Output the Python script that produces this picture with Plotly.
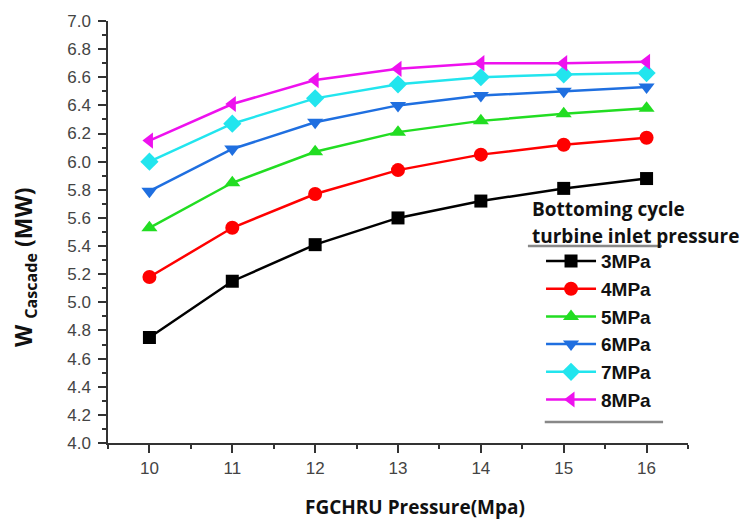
import plotly.graph_objects as go

x_vals = [10, 11, 12, 13, 14, 15, 16]
p3 = [4.75, 5.15, 5.41, 5.60, 5.72, 5.81, 5.88]
p4 = [5.18, 5.53, 5.77, 5.94, 6.05, 6.12, 6.17]
p5 = [5.53, 5.85, 6.07, 6.21, 6.29, 6.34, 6.38]
p6 = [5.79, 6.09, 6.28, 6.40, 6.47, 6.50, 6.53]
p7 = [6.00, 6.27, 6.45, 6.55, 6.60, 6.62, 6.63]
p8 = [6.15, 6.41, 6.58, 6.66, 6.70, 6.70, 6.71]
names = ["3MPa", "4MPa", "5MPa", "6MPa", "7MPa", "8MPa"]
series = [p3, p4, p5, p6, p7, p8]
colors = ["#000000", "#ff0000", "#22dd22", "#1f6fe0", "#22e5ee", "#ee11ee"]
symbols = ["square", "circle", "triangle-up", "triangle-down", "diamond", "triangle-left"]
msizes = [13, 14, 14, 14, 14, 14]

fig = go.Figure()
for n, s, c, sym, ms in zip(names, series, colors, symbols, msizes):
    fig.add_trace(go.Scatter(
        x=x_vals, y=s, name="<b>" + n + "</b>", mode="lines+markers",
        line=dict(color=c, width=2.5),
        marker=dict(symbol=sym, size=ms, color=c),
    ))

axis_font = dict(family="Liberation Sans, Arial", size=17, color="#444444")
title_font = "Open Sans, Lato, sans-serif"
fig.update_layout(
    width=744, height=523,
    margin=dict(l=108, r=56, t=19, b=80),
    paper_bgcolor="white", plot_bgcolor="white",
    showlegend=True,
    xaxis=dict(
        range=[9.5, 16.5], tickmode="array", tickvals=x_vals,
        ticks="outside", ticklen=8, tickwidth=1.5, tickcolor="#333",
        showline=True, linecolor="#333", linewidth=1.5, showgrid=False, zeroline=False,
        minor=dict(dtick=0.5, tick0=9.5, ticks="outside", ticklen=4, tickcolor="#333", showgrid=False),
        tickfont=axis_font, ticklabelstandoff=1,
    ),
    yaxis=dict(
        range=[4.0, 7.0], dtick=0.2, tickformat=".1f",
        ticks="outside", ticklen=8, tickwidth=1.5, tickcolor="#333",
        showline=True, linecolor="#333", linewidth=1.5, showgrid=False, zeroline=False,
        minor=dict(dtick=0.1, ticks="outside", ticklen=4, tickcolor="#333", showgrid=False),
        tickfont=axis_font, ticklabelstandoff=4,
    ),
    legend=dict(
        x=0.7466, y=0.476, xanchor="left", yanchor="top",
        bgcolor="rgba(0,0,0,0)",
        font=dict(family="Liberation Sans, Arial", size=19, color="#111"),
        itemwidth=50,
    ),
)

# axis titles
fig.add_annotation(text="<b>FGCHRU Pressure(Mpa)</b>", xref="paper", yref="paper",
                   x=0.529, y=-0.151, xanchor="center", yanchor="middle", showarrow=False,
                   font=dict(family=title_font, size=19, color="#111"))
fig.add_annotation(text="<b>W <sub>Cascade</sub> (MW)</b>", xref="paper", yref="paper",
                   x=-0.145, y=0.417, xanchor="center", yanchor="middle", showarrow=False,
                   textangle=-90, font=dict(family=title_font, size=23, color="#111"))

# legend title
fig.add_annotation(text="<b>Bottoming cycle</b>", xref="paper", yref="paper",
                   x=0.728, y=0.554, xanchor="left", yanchor="middle", showarrow=False,
                   font=dict(family=title_font, size=19, color="#111"))
fig.add_annotation(text="<b>turbine inlet pressure</b>", xref="paper", yref="paper",
                   x=0.728, y=0.4906, xanchor="left", yanchor="middle", showarrow=False,
                   font=dict(family=title_font, size=19, color="#111"))

fig.add_shape(type="line", xref="paper", yref="paper", x0=0.724, x1=0.955, y0=0.467, y1=0.467,
              line=dict(color="#888", width=2.5))
fig.add_shape(type="line", xref="paper", yref="paper", x0=0.753, x1=0.957, y0=0.0495, y1=0.0495,
              line=dict(color="#888", width=2.5))

fig.write_html("out.html")
